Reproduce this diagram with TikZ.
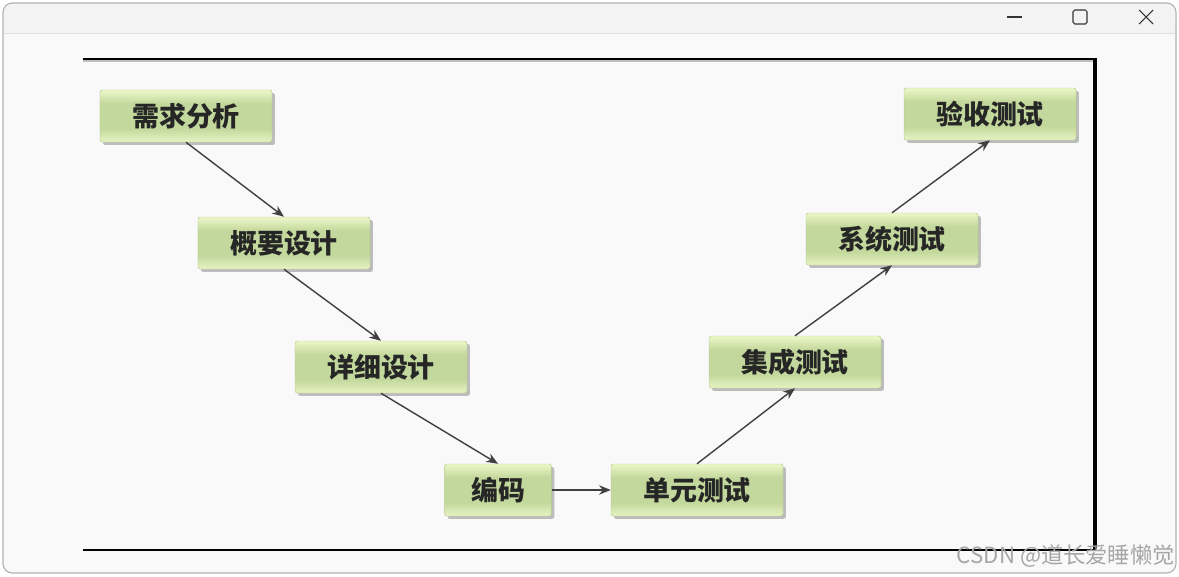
\documentclass[tikz,border=0pt]{standalone}
\usepackage{fontspec}
\newfontfamily\cjk{Noto Sans CJK SC}
\usetikzlibrary{arrows.meta,shadows}
\definecolor{boxlite}{HTML}{F0FACD}
\definecolor{boxmid}{HTML}{C3D89C}
\definecolor{boxedge}{HTML}{B4C88A}
\definecolor{winbg}{HTML}{F9F9F9}
\definecolor{winbar}{HTML}{F3F3F3}
\pgfdeclareverticalshading{bevel}{100bp}{color(0bp)=(boxlite); color(22bp)=(boxlite);
  color(38bp)=(boxmid); color(62bp)=(boxmid); color(76bp)=(boxlite); color(100bp)=(boxlite)}
\tikzset{flow/.style={draw=black!75, line width=1.2pt, -{Stealth[length=10pt, width=8pt]}},
  stage/.style={draw=boxedge, line width=0.4pt, shading=bevel, rounded corners=2pt,
    minimum width=5.16cm, minimum height=1.56cm, inner sep=0pt, text=black!85,
    drop shadow={shadow xshift=2.5pt, shadow yshift=-2.5pt, opacity=0.35, fill=black!70},
    font=\cjk\bfseries\fontsize{23}{25}\selectfont},
  short/.style={stage, minimum width=3.2cm}}

\begin{document}
\begin{tikzpicture}[x=0.03cm, y=-0.03cm]
  \useasboundingbox (0,0) rectangle (1179,576);
  % window
  \fill[white] (0,0) rectangle (1179,576);
  \draw[black!30, fill=winbg, line width=1pt, rounded corners=8pt] (3,3) rectangle (1176,573);
  \fill[winbar, rounded corners=7pt] (4,4) rectangle (1175,33);
  \fill[winbar] (4,20) rectangle (1175,33);
  \draw[black!12] (4,33) -- (1175,33);
  \draw[black!80, line width=0.9pt] (1007,17) -- (1022,17);
  \draw[black!80, line width=0.9pt, rounded corners=1.5pt] (1073,10) rectangle (1087,24);
  \draw[black!80, line width=0.9pt] (1139,10) -- (1153,24) (1139,24) -- (1153,10);
  % frame of the slide
  \draw[black!25, line width=1pt] (83,61) -- (1094,61);
  \draw[black, line width=1.8pt] (83,59) -- (1097,59);
  \draw[black, line width=2.6pt] (1095,58) -- (1095,551);
  \draw[black, line width=1.8pt] (83,550) -- (1097,550);

  % left branch
  \node[stage] (req) at (186,116) {需求分析};
  \node[stage] (hld) at (284,243) {概要设计};
  \node[stage] (dld) at (381,367) {详细设计};
  \node[short] (code) at (498,490) {编码};
  % right branch
  \node[stage] (unit) at (697,490) {单元测试};
  \node[stage] (intg) at (795,362) {集成测试};
  \node[stage] (sys) at (892,239) {系统测试};
  \node[stage] (acc) at (990,114) {验收测试};

  \draw[flow] (req.south) -- (hld.north);
  \draw[flow] (hld.south) -- (dld.north);
  \draw[flow] (dld.south) -- (code.north);
  \draw[flow] (code.east) -- (unit.west);
  \draw[flow] (unit.north) -- (intg.south);
  \draw[flow] (intg.north) -- (sys.south);
  \draw[flow] (sys.north) -- (acc.south);

  \node[anchor=east, text=black!35, font=\cjk\fontsize{19}{21}\selectfont, inner sep=0pt] (mark) at (1175,556) {CSDN @道长爱睡懒觉};
\end{tikzpicture}
\end{document}
